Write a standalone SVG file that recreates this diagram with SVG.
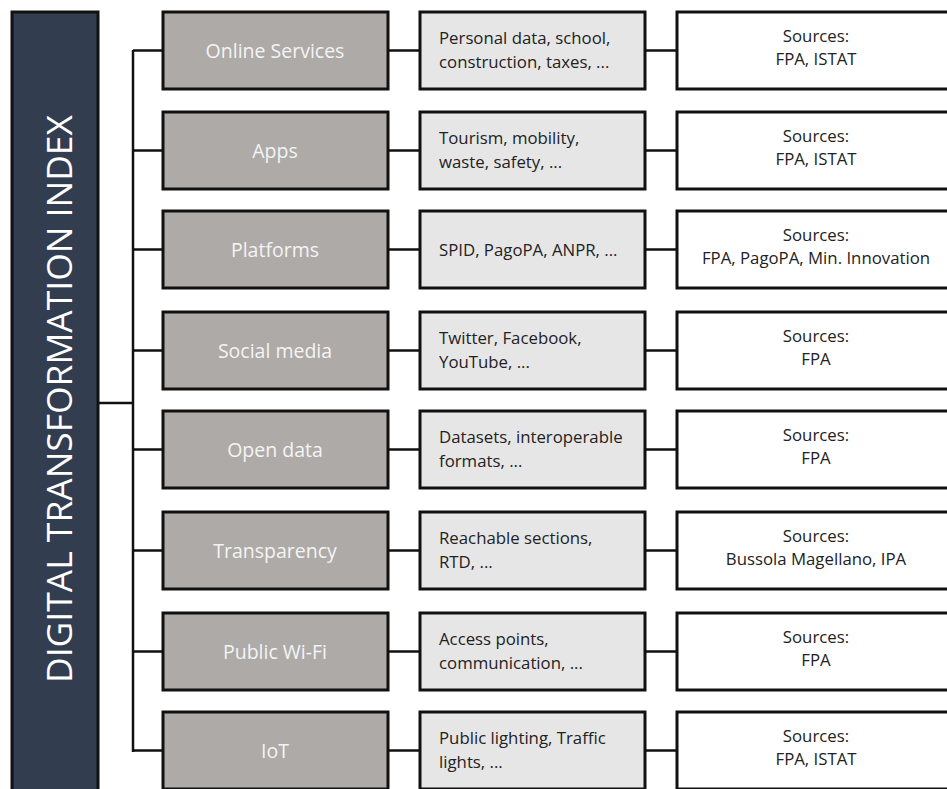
<svg xmlns="http://www.w3.org/2000/svg" width="947" height="789" viewBox="0 0 947 789">
<style>
.bar{fill:#323e50;stroke:#111;stroke-width:3}
.c1{fill:#aeaaa8;stroke:#111;stroke-width:3}
.c2{fill:#e7e6e6;stroke:#111;stroke-width:3}
.c3{fill:#fff;stroke:#111;stroke-width:3}
.t1{font-family:"Open Sans","Liberation Sans",sans-serif;font-size:19.5px;fill:#f4f4f4;text-anchor:middle}
.t2{font-family:"Open Sans","Liberation Sans",sans-serif;font-size:16.8px;fill:#222}
.t3{font-family:"Open Sans","Liberation Sans",sans-serif;font-size:16.8px;fill:#222;text-anchor:middle}
.title{font-family:"Open Sans","Liberation Sans",sans-serif;font-size:34px;fill:#fff;text-anchor:middle}
.ln{fill:none;stroke:#111;stroke-width:2.5}
</style>
<g id="title">
<rect class="bar" x="12" y="12" width="86" height="790"/>
<text class="title" transform="translate(72,399) rotate(-90)" textLength="568" lengthAdjust="spacingAndGlyphs">DIGITAL TRANSFORMATION INDEX</text>
</g>
<g id="connectors">
<path class="ln" d="M98,403H133M133,50V752"/>
<path class="ln" d="M133,50.5H162M133,150.5H162M133,249.5H162M133,350.5H162M133,449.5H162M133,550.5H162M133,651.5H162M133,750.5H162"/>
<path class="ln" d="M388,50.5H420M388,150.5H420M388,249.5H420M388,350.5H420M388,449.5H420M388,550.5H420M388,651.5H420M388,750.5H420"/>
<path class="ln" d="M645,50.5H677M645,150.5H677M645,249.5H677M645,350.5H677M645,449.5H677M645,550.5H677M645,651.5H677M645,750.5H677"/>
</g>
<g id="row1">
<g id="n-online"><rect class="c1" x="163" y="12" width="225" height="77"/><text class="t1" x="275" y="57.5">Online Services</text></g>
<g id="d-online"><rect class="c2" x="420" y="12" width="225" height="77"/><text class="t2" x="439" y="44">Personal data, school,</text><text class="t2" x="439" y="68">construction, taxes, ...</text></g>
<g id="s-online"><rect class="c3" x="677" y="12" width="290" height="77"/><text class="t3" x="816" y="42">Sources:</text><text class="t3" x="816" y="65">FPA, ISTAT</text></g>
</g>
<g id="row2">
<g id="n-apps"><rect class="c1" x="163" y="112" width="225" height="77"/><text class="t1" x="275" y="157.5">Apps</text></g>
<g id="d-apps"><rect class="c2" x="420" y="112" width="225" height="77"/><text class="t2" x="439" y="144">Tourism, mobility,</text><text class="t2" x="439" y="168">waste, safety, ...</text></g>
<g id="s-apps"><rect class="c3" x="677" y="112" width="290" height="77"/><text class="t3" x="816" y="142">Sources:</text><text class="t3" x="816" y="165">FPA, ISTAT</text></g>
</g>
<g id="row3">
<g id="n-platforms"><rect class="c1" x="163" y="211" width="225" height="77"/><text class="t1" x="275" y="256.5">Platforms</text></g>
<g id="d-platforms"><rect class="c2" x="420" y="211" width="225" height="77"/><text class="t2" x="439" y="255.5">SPID, PagoPA, ANPR, ...</text></g>
<g id="s-platforms"><rect class="c3" x="677" y="211" width="290" height="77"/><text class="t3" x="816" y="241">Sources:</text><text class="t3" x="816" y="264">FPA, PagoPA, Min. Innovation</text></g>
</g>
<g id="row4">
<g id="n-social"><rect class="c1" x="163" y="312" width="225" height="77"/><text class="t1" x="275" y="357.5">Social media</text></g>
<g id="d-social"><rect class="c2" x="420" y="312" width="225" height="77"/><text class="t2" x="439" y="344">Twitter, Facebook,</text><text class="t2" x="439" y="368">YouTube, ...</text></g>
<g id="s-social"><rect class="c3" x="677" y="312" width="290" height="77"/><text class="t3" x="816" y="342">Sources:</text><text class="t3" x="816" y="365">FPA</text></g>
</g>
<g id="row5">
<g id="n-open"><rect class="c1" x="163" y="411" width="225" height="77"/><text class="t1" x="275" y="456.5">Open data</text></g>
<g id="d-open"><rect class="c2" x="420" y="411" width="225" height="77"/><text class="t2" x="439" y="443">Datasets, interoperable</text><text class="t2" x="439" y="467">formats, ...</text></g>
<g id="s-open"><rect class="c3" x="677" y="411" width="290" height="77"/><text class="t3" x="816" y="441">Sources:</text><text class="t3" x="816" y="464">FPA</text></g>
</g>
<g id="row6">
<g id="n-transparency"><rect class="c1" x="163" y="512" width="225" height="77"/><text class="t1" x="275" y="557.5">Transparency</text></g>
<g id="d-transparency"><rect class="c2" x="420" y="512" width="225" height="77"/><text class="t2" x="439" y="544">Reachable sections,</text><text class="t2" x="439" y="568">RTD, ...</text></g>
<g id="s-transparency"><rect class="c3" x="677" y="512" width="290" height="77"/><text class="t3" x="816" y="542">Sources:</text><text class="t3" x="816" y="565">Bussola Magellano, IPA</text></g>
</g>
<g id="row7">
<g id="n-wifi"><rect class="c1" x="163" y="613" width="225" height="77"/><text class="t1" x="275" y="658.5">Public Wi-Fi</text></g>
<g id="d-wifi"><rect class="c2" x="420" y="613" width="225" height="77"/><text class="t2" x="439" y="645">Access points,</text><text class="t2" x="439" y="669">communication, ...</text></g>
<g id="s-wifi"><rect class="c3" x="677" y="613" width="290" height="77"/><text class="t3" x="816" y="643">Sources:</text><text class="t3" x="816" y="666">FPA</text></g>
</g>
<g id="row8">
<g id="n-iot"><rect class="c1" x="163" y="712" width="225" height="77"/><text class="t1" x="275" y="757.5">IoT</text></g>
<g id="d-iot"><rect class="c2" x="420" y="712" width="225" height="77"/><text class="t2" x="439" y="744">Public lighting, Traffic</text><text class="t2" x="439" y="768">lights, ...</text></g>
<g id="s-iot"><rect class="c3" x="677" y="712" width="290" height="77"/><text class="t3" x="816" y="742">Sources:</text><text class="t3" x="816" y="765">FPA, ISTAT</text></g>
</g>
</svg>
